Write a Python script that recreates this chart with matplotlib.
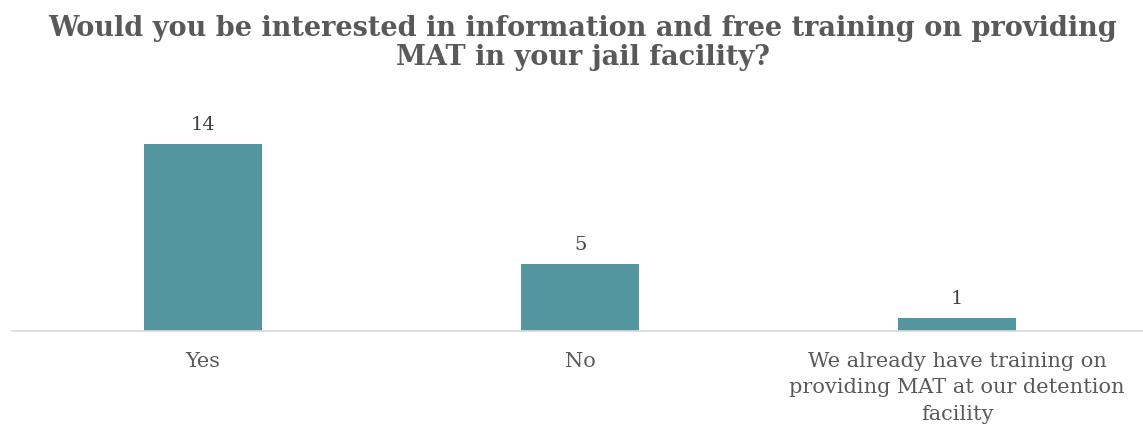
import matplotlib
matplotlib.use("Agg")
import matplotlib.pyplot as plt

categories = ["Yes", "No", "We already have training on\nproviding MAT at our detention\nfacility"]
counts = [14, 5, 1]
title = "Would you be interested in information and free training on providing\nMAT in your jail facility?"

plt.rcParams['font.family'] = ['DejaVu Serif']

fig = plt.figure(figsize=(11.43, 4.26), dpi=100)
ax = fig.add_axes([12 / 1143, 95 / 426, 1131 / 1143, 243 / 426])

bars = ax.bar(range(len(categories)), counts, width=0.313, color="#5496A0")
for b, v in zip(bars, counts):
    ax.text(b.get_x() + b.get_width() / 2, v + 0.75, str(v), ha="center", va="bottom",
            fontsize=14, color="#404040")

ax.set_xlim(-0.507, 2.493)
ax.set_ylim(0, 18.2)
ax.set_xticks(range(len(categories)))
ax.set_xticklabels(categories, fontsize=15, color="#595959", linespacing=1.5)
ax.tick_params(axis="x", length=0, pad=15)
ax.set_yticks([])
for s in ["top", "right", "left"]:
    ax.spines[s].set_visible(False)
ax.spines["bottom"].set_color("#D9D9D9")
ax.spines["bottom"].set_linewidth(1.2)

fig.text(0.51, 1 - 43 / 426, title, ha="center", va="center", fontsize=19.5, fontweight="bold",
         color="#595959", linespacing=1.05)

fig.savefig("out.png", dpi=100)
